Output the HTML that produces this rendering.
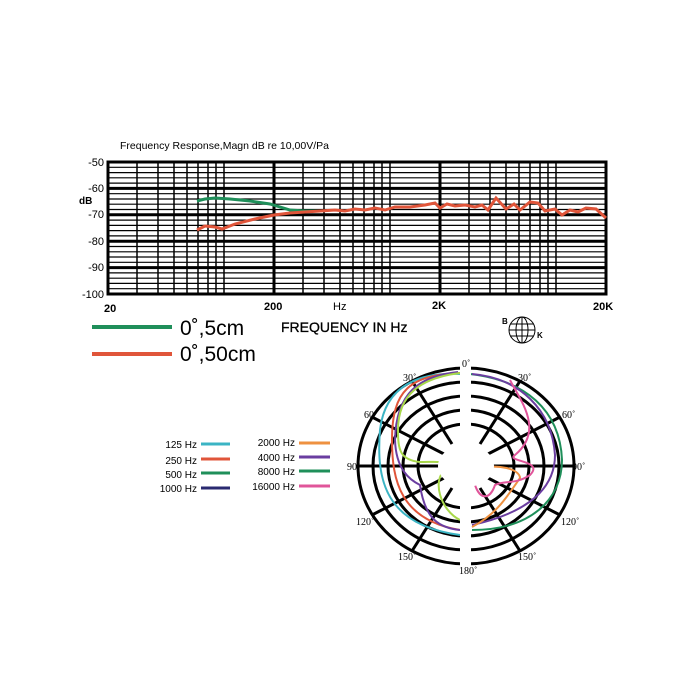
<!DOCTYPE html>
<html><head><meta charset="utf-8"><style>
html,body{margin:0;padding:0;background:#fff;}
svg{display:block;font-family:"Liberation Sans",sans-serif;}
</style></head><body>
<svg width="700" height="700" viewBox="0 0 700 700" xmlns="http://www.w3.org/2000/svg">
<rect width="700" height="700" fill="#fff"/>
<text x="120" y="149" font-size="10.5" fill="#000">Frequency Response,Magn dB re 10,00V/Pa</text>
<g stroke="#000" stroke-width="1.2">
<line x1="108" x2="606" y1="167.3" y2="167.3"/><line x1="108" x2="606" y1="172.6" y2="172.6"/><line x1="108" x2="606" y1="177.8" y2="177.8"/><line x1="108" x2="606" y1="183.1" y2="183.1"/>
<line x1="108" x2="606" y1="193.7" y2="193.7"/><line x1="108" x2="606" y1="199" y2="199"/><line x1="108" x2="606" y1="204.2" y2="204.2"/><line x1="108" x2="606" y1="209.5" y2="209.5"/>
<line x1="108" x2="606" y1="220.1" y2="220.1"/><line x1="108" x2="606" y1="225.4" y2="225.4"/><line x1="108" x2="606" y1="230.6" y2="230.6"/><line x1="108" x2="606" y1="235.9" y2="235.9"/>
<line x1="108" x2="606" y1="246.5" y2="246.5"/><line x1="108" x2="606" y1="251.8" y2="251.8"/><line x1="108" x2="606" y1="257" y2="257"/><line x1="108" x2="606" y1="262.3" y2="262.3"/>
<line x1="108" x2="606" y1="272.9" y2="272.9"/><line x1="108" x2="606" y1="278.2" y2="278.2"/><line x1="108" x2="606" y1="283.4" y2="283.4"/><line x1="108" x2="606" y1="288.7" y2="288.7"/>
</g>
<g stroke="#000" stroke-width="1.5">
<line y1="162" y2="294" x1="137" x2="137"/><line y1="162" y2="294" x1="158" x2="158"/><line y1="162" y2="294" x1="174" x2="174"/><line y1="162" y2="294" x1="187" x2="187"/><line y1="162" y2="294" x1="198" x2="198"/><line y1="162" y2="294" x1="208" x2="208"/><line y1="162" y2="294" x1="216" x2="216"/><line y1="162" y2="294" x1="224" x2="224"/>
<line y1="162" y2="294" x1="303" x2="303"/><line y1="162" y2="294" x1="324" x2="324"/><line y1="162" y2="294" x1="340" x2="340"/><line y1="162" y2="294" x1="353" x2="353"/><line y1="162" y2="294" x1="364" x2="364"/><line y1="162" y2="294" x1="374" x2="374"/><line y1="162" y2="294" x1="382" x2="382"/><line y1="162" y2="294" x1="390" x2="390"/>
<line y1="162" y2="294" x1="469" x2="469"/><line y1="162" y2="294" x1="490" x2="490"/><line y1="162" y2="294" x1="506" x2="506"/><line y1="162" y2="294" x1="519" x2="519"/><line y1="162" y2="294" x1="530" x2="530"/><line y1="162" y2="294" x1="540" x2="540"/><line y1="162" y2="294" x1="548" x2="548"/><line y1="162" y2="294" x1="556" x2="556"/>
</g>
<g stroke="#000" stroke-width="3">
<line x1="108" x2="606" y1="188.4" y2="188.4"/><line x1="108" x2="606" y1="214.8" y2="214.8"/><line x1="108" x2="606" y1="241.2" y2="241.2"/><line x1="108" x2="606" y1="267.6" y2="267.6"/>
<line y1="162" y2="294" x1="274" x2="274"/><line y1="162" y2="294" x1="440" x2="440"/>
<rect x="108" y="162" width="498" height="132" fill="none"/>
</g>
<g font-size="11" text-anchor="end" fill="#000">
<text x="104" y="166">-50</text><text x="104" y="192">-60</text><text x="104" y="218">-70</text><text x="104" y="245">-80</text><text x="104" y="271">-90</text><text x="104" y="298">-100</text>
</g>
<text x="79" y="204" font-size="10" font-weight="bold">dB</text>
<g font-size="11" font-weight="bold">
<text x="104" y="312">20</text><text x="264" y="310">200</text><text x="333" y="310" font-weight="normal">Hz</text><text x="432" y="309">2K</text><text x="593" y="310">20K</text>
</g>
<polyline fill="none" stroke="#1f8f5a" stroke-width="3" points="197,201 205,199 215,198 230,199 250,201 270,204 290,210 305,211 320,211"/>
<polyline fill="none" stroke="#e0553a" stroke-width="3" points="197,230 205,226 215,227 222,229 235,224 255,219 274,215 290,213 305,212 320,211 335,210 345,211 355,209 365,210 375,208 385,210 395,207 410,207 425,205 435,203 440,208 447,204 455,206 465,205 475,207 482,205 488,210 496,198 506,209 514,204 520,210 530,202 538,203 545,211 555,209 562,215 570,210 578,212 586,208 596,209 606,218"/>
<line x1="92" y1="327" x2="172" y2="327" stroke="#1f8f5a" stroke-width="4"/>
<line x1="92" y1="354" x2="172" y2="354" stroke="#e0553a" stroke-width="4"/>
<text x="180" y="335" font-size="21">0˚,5cm</text>
<text x="180" y="361" font-size="21">0˚,50cm</text>
<text x="281" y="332" font-size="14" stroke="#000" stroke-width="0.3">FREQUENCY IN Hz</text>
<g stroke="#000" stroke-width="1" fill="none">
<ellipse cx="522" cy="330" rx="13" ry="13"/><ellipse cx="522" cy="330" rx="6" ry="13"/><line x1="509" y1="330" x2="535" y2="330"/><line x1="510" y1="324" x2="534" y2="324"/><line x1="510" y1="336" x2="534" y2="336"/><line x1="522" y1="317" x2="522" y2="343"/>
</g>
<text x="502" y="324" font-size="8" font-weight="bold">B</text><text x="537" y="338" font-size="8" font-weight="bold">K</text>
<g font-size="10" text-anchor="end">
<text x="197" y="448">125 Hz</text><text x="197" y="464">250 Hz</text><text x="197" y="478">500 Hz</text><text x="197" y="492">1000 Hz</text>
<text x="295" y="446">2000 Hz</text><text x="295" y="461">4000 Hz</text><text x="295" y="475">8000 Hz</text><text x="295" y="490">16000 Hz</text>
</g>
<g stroke-width="3">
<line x1="201" y1="444" x2="230" y2="444" stroke="#3bb4c4"/><line x1="201" y1="459" x2="230" y2="459" stroke="#e0553a"/><line x1="201" y1="473" x2="230" y2="473" stroke="#1f8f5a"/><line x1="201" y1="488" x2="230" y2="488" stroke="#2a2a70"/>
<line x1="299" y1="443" x2="330" y2="443" stroke="#ee9140"/><line x1="299" y1="457" x2="330" y2="457" stroke="#6a3da0"/><line x1="299" y1="471" x2="330" y2="471" stroke="#1f8f5a"/><line x1="299" y1="486" x2="330" y2="486" stroke="#e0559a"/>
</g>
<g stroke="#000" stroke-width="3" fill="none">
<ellipse cx="466" cy="466" rx="108" ry="98"/>
<ellipse cx="466" cy="466" rx="93" ry="84"/>
<ellipse cx="466" cy="466" rx="78" ry="70"/>
<ellipse cx="466" cy="466" rx="63" ry="56"/>
<ellipse cx="466" cy="466" rx="48" ry="42"/>
<line x1="358" y1="466" x2="440" y2="466"/><line x1="492" y1="466" x2="574" y2="466"/>
<line x1="452" y1="444" x2="412" y2="381"/><line x1="480" y1="444" x2="520" y2="381"/>
<line x1="444" y1="454" x2="372" y2="417"/><line x1="488" y1="454" x2="560" y2="417"/>
<line x1="444" y1="478" x2="372" y2="515"/><line x1="488" y1="478" x2="560" y2="515"/>
<line x1="452" y1="488" x2="412" y2="551"/><line x1="480" y1="488" x2="520" y2="551"/>
</g>
<g fill="none" stroke-width="2">
<path d="M460,374 C420,372 385,385 380,430 C376,480 385,525 460,535" stroke="#3bb4c4"/>
<path d="M460,373 C410,375 392,390 392,440 C392,480 400,520 460,530" stroke="#e0553a"/>
<path d="M458,372 C420,376 396,392 395,440 C396,470 410,480 420,485 C425,520 440,528 460,530" stroke="#6a3da0"/>
<path d="M460,373 C420,378 398,395 398,430 C398,450 400,460 420,462 C440,462 455,460 445,470 C432,480 440,510 460,520" stroke="#a8d84a"/>
<path d="M470,374 C525,380 560,410 562,460 C562,500 530,530 472,530" stroke="#1f8f5a"/>
<path d="M472,374 C520,378 552,410 555,455 C555,480 540,510 472,525" stroke="#6a3da0"/>
<path d="M472,470 C500,462 520,470 520,478 C505,500 495,515 472,527" stroke="#ee9140"/>
<path d="M510,380 C520,400 545,430 515,455 C505,462 545,460 530,475 C515,485 505,480 495,485 C490,500 480,500 475,485" stroke="#e0559a"/>
</g>
<rect x="460" y="360" width="11" height="212" fill="#fff"/>
<ellipse cx="466" cy="466" rx="28" ry="21" fill="#fff" stroke="none"/>
<g font-family="Liberation Serif,serif" font-size="10">
<text x="462" y="367">0˚</text><text x="403" y="381">30˚</text><text x="518" y="381">30˚</text>
<text x="364" y="418">60˚</text><text x="562" y="418">60˚</text>
<text x="347" y="470">90˚</text><text x="572" y="470">90˚</text>
<text x="356" y="525">120˚</text><text x="561" y="525">120˚</text>
<text x="398" y="560">150˚</text><text x="518" y="560">150˚</text><text x="459" y="574">180˚</text>
</g>
</svg>
</body></html>
